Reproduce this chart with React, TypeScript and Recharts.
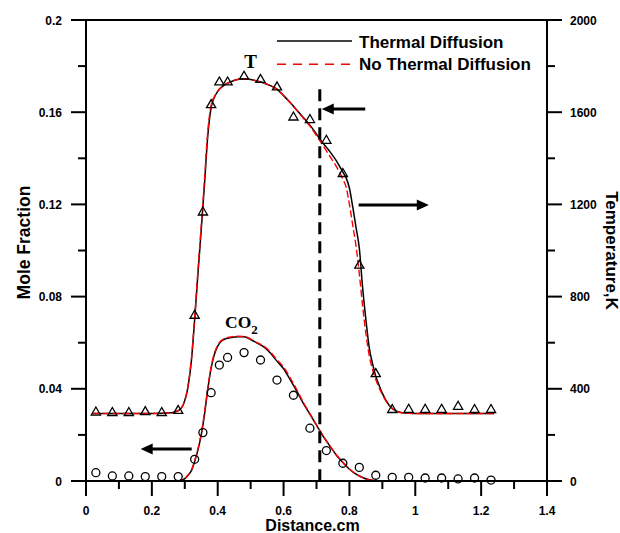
import React from "react";
import {
  ComposedChart,
  Line,
  Scatter,
  XAxis,
  YAxis,
  ReferenceLine,
  ReferenceDot,
  Legend,
  Label,
} from "recharts";

// axis ticks (minor + labelled)
const xTicks = [0, 0.1, 0.2, 0.3, 0.4, 0.5, 0.6, 0.7, 0.8, 0.9, 1, 1.1, 1.2, 1.3, 1.4];
const xLabelTicks = [0, 0.2, 0.4, 0.6, 0.8, 1, 1.2, 1.4];
const moleTicks = [0, 0.02, 0.04, 0.06, 0.08, 0.1, 0.12, 0.14, 0.16, 0.18, 0.2];
const moleLabelTicks = [0, 0.04, 0.08, 0.12, 0.16, 0.2];
const tempTicks = [0, 200, 400, 600, 800, 1000, 1200, 1400, 1600, 1800, 2000];
const tempLabelTicks = [0, 400, 800, 1200, 1600, 2000];

// temperature profiles (K)
const tempDist = [
  0.02, 0.1, 0.2, 0.26, 0.28, 0.295, 0.31, 0.32, 0.33, 0.34, 0.35, 0.36, 0.37, 0.38, 0.39, 0.4,
  0.42, 0.44, 0.46, 0.48, 0.5, 0.52, 0.54, 0.56, 0.58, 0.6, 0.62, 0.64, 0.66, 0.68, 0.7, 0.72,
  0.74, 0.76, 0.78, 0.79, 0.8, 0.81, 0.82, 0.83, 0.84, 0.85, 0.86, 0.87, 0.88, 0.89, 0.9, 0.92,
  0.94, 0.96, 1.0, 1.1, 1.24,
];
const tempThermal = [
  293, 293, 293, 296, 305, 330, 410, 520, 700, 900, 1090, 1290, 1500, 1620, 1665, 1690,
  1718, 1732, 1742, 1745, 1742, 1735, 1727, 1715, 1700, 1672, 1642, 1610, 1577, 1544, 1505, 1465,
  1430, 1390, 1340, 1315, 1270, 1190, 1100, 1010, 840, 700, 580, 510, 455, 415, 380, 330,
  305, 296, 293, 293, 293,
];
const tempNoThermal = [
  293, 293, 293, 296, 305, 330, 415, 530, 710, 915, 1110, 1310, 1520, 1630, 1668, 1692,
  1718, 1732, 1742, 1745, 1742, 1735, 1727, 1715, 1700, 1672, 1642, 1608, 1574, 1540, 1498, 1455,
  1410, 1365, 1310, 1275, 1200, 1110, 1020, 900, 760, 640, 545, 485, 440, 405, 375, 328,
  304, 296, 293, 293, 293,
];

// CO2 mole fraction profiles
const co2Dist = [
  0, 0.2, 0.28, 0.29, 0.3, 0.31, 0.32, 0.33, 0.34, 0.35, 0.36, 0.37, 0.38, 0.39, 0.4, 0.41,
  0.42, 0.44, 0.46, 0.48, 0.5, 0.52, 0.54, 0.56, 0.58, 0.6, 0.62, 0.64, 0.66, 0.68, 0.7, 0.72,
  0.74, 0.76, 0.78, 0.8, 0.82, 0.84, 0.86, 0.88, 0.9, 1.24,
];
const co2Thermal = [
  0, 0, 0, 0.0003, 0.001, 0.0025, 0.0045, 0.0085, 0.0135, 0.02, 0.029, 0.04, 0.049, 0.055, 0.0585, 0.0605,
  0.0615, 0.0622, 0.0626, 0.0626, 0.0614, 0.0598, 0.0582, 0.0555, 0.052, 0.0487, 0.044, 0.039, 0.0337, 0.029, 0.0242, 0.0195,
  0.0153, 0.0113, 0.008, 0.0051, 0.003, 0.0015, 0.0005, 0.0001, 0, 0,
];
const co2NoThermal = [
  0, 0, 0, 0.0003, 0.001, 0.0026, 0.0047, 0.0088, 0.014, 0.0207, 0.0298, 0.0405, 0.0495, 0.0555, 0.0588, 0.0608,
  0.0618, 0.0625, 0.0628, 0.0627, 0.0616, 0.06, 0.0585, 0.056, 0.0526, 0.0495, 0.0448, 0.0397, 0.0341, 0.0292, 0.0243, 0.0196,
  0.0154, 0.0114, 0.0081, 0.0052, 0.003, 0.0015, 0.0005, 0.0001, 0, 0,
];

// measured points
const expDist = [
  0.03, 0.08, 0.13, 0.18, 0.23, 0.28, 0.33, 0.355, 0.38, 0.405, 0.43, 0.48, 0.53, 0.58,
  0.63, 0.68, 0.73, 0.78, 0.83, 0.88, 0.93, 0.98, 1.03, 1.08, 1.13, 1.18, 1.23,
];
const expTemp = [
  300, 298, 298, 302, 298, 307, 720, 1168, 1634, 1732, 1732, 1757, 1743, 1711,
  1580, 1569, 1479, 1335, 937, 467, 311, 312, 312, 312, 325, 311, 311,
];
const expCo2 = [
  0.0036, 0.0022, 0.0022, 0.0019, 0.0019, 0.0019, 0.0094, 0.021, 0.0383, 0.0503, 0.0536, 0.0557, 0.0525, 0.0438,
  0.0372, 0.0229, 0.0132, 0.0077, 0.0059, 0.0025, 0.0016, 0.0016, 0.0013, 0.0013, 0.0009, 0.0013, 0.0004,
];

// annotations in data units (distance, mole fraction)
const flameMark = 0.71;
const flameMarkTop = 0.17;
const arrows = [
  { from: [0.848, 0.1614], to: [0.716, 0.1614] },
  { from: [0.828, 0.1197], to: [1.041, 0.1197] },
  { from: [0.321, 0.0139], to: [0.166, 0.0139] },
];

const pairs = (xs: number[], ys: number[]) => xs.map((d, i) => ({ d, v: ys[i] }));

const tThermalData = pairs(tempDist, tempThermal);
const tNoThermalData = pairs(tempDist, tempNoThermal);
const cThermalData = pairs(co2Dist, co2Thermal);
const cNoThermalData = pairs(co2Dist, co2NoThermal);
const tExpData = pairs(expDist, expTemp);
const cExpData = pairs(expDist, expCo2);

const SANS = "'Liberation Sans', Arial, Helvetica, sans-serif";
const SERIF = "'Liberation Serif', 'Times New Roman', serif";
const has = (arr: number[], v: number) => arr.some((a) => Math.abs(a - v) < 1e-9);

const tickText = { fontFamily: SANS, fontWeight: 700, fontSize: 12, fill: "#000" };

function BottomTick({ x, y, payload }: any) {
  const major = has(xLabelTicks, payload.value);
  return (
    <g>
      <line x1={x} y1={y} x2={x} y2={y + (major ? 15 : 8)} stroke="#000" strokeWidth={2} />
      {major && (
        <text x={x} y={y + 34} textAnchor="middle" style={tickText}>
          {String(payload.value)}
        </text>
      )}
    </g>
  );
}

function LeftTick({ x, y, payload }: any) {
  const major = has(moleLabelTicks, payload.value);
  return (
    <g>
      <line x1={x} y1={y} x2={x - (major ? 15 : 8)} y2={y} stroke="#000" strokeWidth={2} />
      {major && (
        <text x={x - 24} y={y + 4.5} textAnchor="end" style={tickText}>
          {String(payload.value)}
        </text>
      )}
    </g>
  );
}

function RightTick({ x, y, payload }: any) {
  const major = has(tempLabelTicks, payload.value);
  return (
    <g>
      <line x1={x} y1={y} x2={x + (major ? 15 : 8)} y2={y} stroke="#000" strokeWidth={2} />
      {major && (
        <text x={x + 23} y={y + 4.5} textAnchor="start" style={tickText}>
          {String(payload.value)}
        </text>
      )}
    </g>
  );
}

const triangle = ({ cx, cy }: any) => (
  <polygon
    points={`${cx},${cy - 4.8} ${cx - 4.6},${cy + 3.2} ${cx + 4.6},${cy + 3.2}`}
    fill="none"
    stroke="#000"
    strokeWidth={1.3}
  />
);

const circle = ({ cx, cy }: any) => (
  <circle cx={cx} cy={cy} r={4} fill="none" stroke="#000" strokeWidth={1.3} />
);

const arrowShape = ({ x1, y1, x2, y2 }: any) => {
  const len = Math.hypot(x2 - x1, y2 - y1) || 1;
  const ux = (x2 - x1) / len;
  const uy = (y2 - y1) / len;
  const head = 12;
  const half = 5.5;
  const bx = x2 - ux * head;
  const by = y2 - uy * head;
  return (
    <g>
      <line x1={x1} y1={y1} x2={bx + ux} y2={by + uy} stroke="#000" strokeWidth={3} />
      <polygon
        points={`${x2},${y2} ${bx - uy * half},${by + ux * half} ${bx + uy * half},${by - ux * half}`}
        fill="#000"
      />
    </g>
  );
};

function LegendBox() {
  const txt = { fontFamily: SANS, fontWeight: 700, fontSize: 17, fill: "#000" };
  return (
    <svg width={290} height={55} style={{ display: "block" }}>
      <line x1={7} y1={16} x2={82} y2={16} stroke="#000" strokeWidth={1.6} />
      <text x={89} y={22.7} style={txt}>Thermal Diffusion</text>
      <line x1={7} y1={39.3} x2={82} y2={39.3} stroke="#ff0000" strokeWidth={1.4} strokeDasharray="9 7" />
      <text x={89} y={45} style={txt}>No Thermal Diffusion</text>
    </svg>
  );
}

export default function App() {
  return (
    <div style={{ position: "absolute", left: 0, top: 0, background: "#fff" }}>
      <ComposedChart width={620} height={533} margin={{ top: 20, right: 0, bottom: 0, left: 0 }}>
        <XAxis
          type="number"
          dataKey="d"
          domain={[0, 1.4]}
          ticks={xTicks}
          interval={0}
          height={52}
          tickSize={0}
          tickMargin={0}
          tick={<BottomTick />}
          axisLine={{ stroke: "#000", strokeWidth: 2 }}
        >
          <Label
            content={({ viewBox }: any) => (
              <text
                x={viewBox.x + viewBox.width / 2 - 4}
                y={viewBox.y + 50}
                textAnchor="middle"
                style={{ fontFamily: SANS, fontWeight: 700, fontSize: 16, fill: "#000" }}
              >
                Distance.cm
              </text>
            )}
          />
        </XAxis>
        <YAxis
          yAxisId="m"
          type="number"
          domain={[0, 0.2]}
          ticks={moleTicks}
          interval={0}
          width={86}
          tickSize={0}
          tickMargin={0}
          tick={<LeftTick />}
          axisLine={{ stroke: "#000", strokeWidth: 2 }}
        >
          <Label
            content={({ viewBox }: any) => {
              const x = viewBox.x + 30;
              const y = viewBox.y + viewBox.height / 2 - 8;
              return (
                <text
                  x={x}
                  y={y}
                  textAnchor="middle"
                  transform={`rotate(-90 ${x} ${y})`}
                  style={{ fontFamily: SANS, fontWeight: 700, fontSize: 17.5, fill: "#000" }}
                >
                  Mole Fraction
                </text>
              );
            }}
          />
        </YAxis>
        <YAxis
          yAxisId="T"
          orientation="right"
          type="number"
          domain={[0, 2000]}
          ticks={tempTicks}
          interval={0}
          width={73}
          tickSize={0}
          tickMargin={0}
          tick={<RightTick />}
          axisLine={{ stroke: "#000", strokeWidth: 2 }}
        >
          <Label
            content={({ viewBox }: any) => {
              const x = viewBox.x + 58.5;
              const y = viewBox.y + viewBox.height / 2;
              return (
                <text
                  x={x}
                  y={y}
                  textAnchor="middle"
                  transform={`rotate(90 ${x} ${y})`}
                  style={{ fontFamily: SANS, fontWeight: 700, fontSize: 17, fill: "#000" }}
                >
                  Temperature,K
                </text>
              );
            }}
          />
        </YAxis>

        {/* frame top */}
        <ReferenceLine yAxisId="m" y={0.2} stroke="#000" strokeWidth={2} />

        <Line yAxisId="T" data={tThermalData} dataKey="v" type="monotone" stroke="#000" strokeWidth={1.5} dot={false} isAnimationActive={false} />
        <Line yAxisId="m" data={cThermalData} dataKey="v" type="monotone" stroke="#000" strokeWidth={1.5} dot={false} isAnimationActive={false} />
        <Line yAxisId="T" data={tNoThermalData} dataKey="v" type="monotone" stroke="#ff0000" strokeWidth={1.4} strokeDasharray="7 3" dot={false} isAnimationActive={false} />
        <Line yAxisId="m" data={cNoThermalData} dataKey="v" type="monotone" stroke="#ff0000" strokeWidth={1.4} strokeDasharray="7 3" dot={false} isAnimationActive={false} />

        <Scatter yAxisId="T" data={tExpData} dataKey="v" shape={triangle} isAnimationActive={false} />
        <Scatter yAxisId="m" data={cExpData} dataKey="v" shape={circle} isAnimationActive={false} />

        {/* flame position marker */}
        <ReferenceLine
          yAxisId="m"
          segment={[{ x: flameMark, y: flameMarkTop }, { x: flameMark, y: 0 }]}
          stroke="#000"
          strokeWidth={3}
          strokeDasharray="12 7"
        />

        {arrows.map((a, i) => (
          <ReferenceLine
            key={i}
            yAxisId="m"
            segment={[{ x: a.from[0], y: a.from[1] }, { x: a.to[0], y: a.to[1] }]}
            shape={arrowShape}
          />
        ))}

        <ReferenceDot
          yAxisId="m"
          x={0.5}
          y={0.1793}
          r={0}
          shape={({ cx, cy }: any) => (
            <text x={cx} y={cy} textAnchor="middle" style={{ fontFamily: SERIF, fontWeight: 700, fontSize: 19, fill: "#000" }}>
              T
            </text>
          )}
        />
        <ReferenceDot
          yAxisId="m"
          x={0.4225}
          y={0.0662}
          r={0}
          shape={({ cx, cy }: any) => (
            <text x={cx} y={cy} textAnchor="start" style={{ fontFamily: SERIF, fontWeight: 700, fontSize: 17.5, fill: "#000" }}>
              CO
              <tspan dy={6} fontSize={13}>2</tspan>
            </text>
          )}
        />

        <Legend
          layout="horizontal"
          verticalAlign="middle"
          align="center"
          content={() => <LegendBox />}
          wrapperStyle={{ position: "absolute", top: 25, left: 270, width: 290, height: 55 }}
        />
      </ComposedChart>
    </div>
  );
}
